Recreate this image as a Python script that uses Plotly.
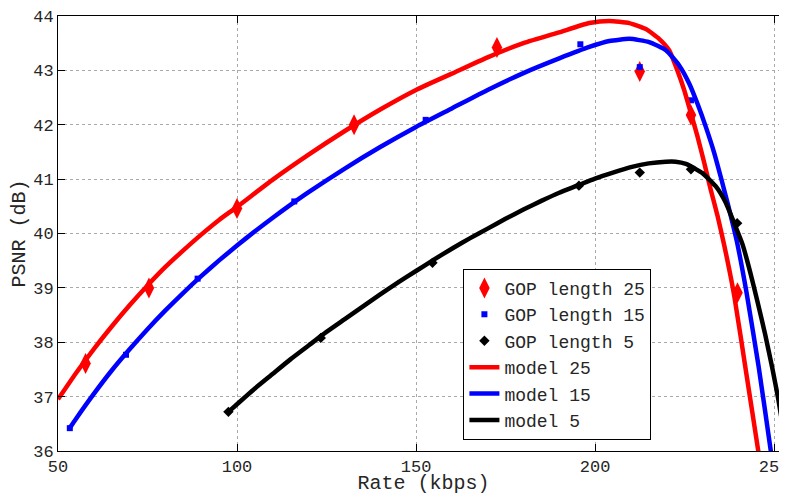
import plotly.graph_objects as go

# Measured points
gop25_x = [57.7, 75.4, 100.0, 132.7, 172.6, 212.5, 226.8, 239.8]
gop25_y = [37.61, 39.0, 40.46, 42.0, 43.42, 42.98, 42.18, 38.91]

gop15_x = [53.3, 69.0, 89.0, 116.0, 152.7, 195.9, 212.5, 226.8]
gop15_y = [36.42, 37.77, 39.17, 40.59, 42.09, 43.48, 43.06, 42.45]

gop5_x = [97.6, 123.4, 154.6, 195.5, 212.5, 226.8, 239.7]
gop5_y = [36.72, 38.08, 39.46, 40.88, 41.12, 41.18, 40.19]

# Model curves
m25_x = [50, 55, 60, 65, 70, 75, 80, 85, 90, 95, 100, 110, 120, 130, 140, 150, 160, 170,
         180, 190, 198.4, 204.0, 209.6, 214.2, 217.9, 220.7, 223.0, 224.9, 226.8, 228.6,
         230.5, 232.3, 234.2, 236.1, 238.9, 242.2, 245.6, 246.5]
m25_y = [36.95, 37.43, 37.875, 38.29, 38.68, 39.045, 39.385, 39.69, 39.98, 40.25, 40.49,
         40.99, 41.45, 41.88, 42.28, 42.64, 42.94, 43.24, 43.50, 43.70, 43.87, 43.91, 43.87,
         43.76, 43.58, 43.37, 43.0, 42.64, 42.21, 41.79, 41.30, 40.81, 40.33, 39.78, 38.85,
         37.45, 36.0, 35.6]

m15_x = [53.35, 55, 60, 65, 70, 75, 80, 85, 90, 95, 100, 105, 110, 115, 120, 130, 140,
         150, 160, 170, 180, 190, 198.4, 204.0, 209.6, 215.1, 219.8, 223.5, 226.3, 228.6,
         230.9, 233.3, 235.2, 237.1, 239.6, 242.3, 245.7, 249.1, 250.0]
m15_y = [36.43, 36.59, 37.05, 37.48, 37.87, 38.24, 38.585, 38.91, 39.215, 39.505, 39.78,
         40.04, 40.29, 40.53, 40.76, 41.19, 41.59, 41.96, 42.30, 42.64, 42.95, 43.22, 43.43,
         43.54, 43.58, 43.52, 43.37, 43.09, 42.76, 42.39, 41.97, 41.48, 41.02, 40.54, 39.86,
         38.92, 37.55, 36.0, 35.55]

m5_x = [97.6, 100, 105, 110, 115, 120, 125, 130, 135, 140, 145, 150, 155, 160, 165, 170,
        175, 180, 185, 190, 195, 200, 205, 210, 215, 219.8, 222.5, 225.4, 228.0, 230.0,
        233.7, 236.5, 238.8, 241.2, 243.3, 245.4, 247.5, 249.5, 251.2, 252.8, 253.8, 254.5]
m5_y = [36.72, 36.86, 37.15, 37.42, 37.69, 37.94, 38.19, 38.42, 38.65, 38.88, 39.10,
        39.31, 39.52, 39.72, 39.91, 40.09, 40.27, 40.44, 40.60, 40.75, 40.88, 41.01, 41.12,
        41.22, 41.29, 41.32, 41.32, 41.28, 41.19, 41.11, 40.87, 40.57, 40.20, 39.80, 39.30,
        38.74, 38.15, 37.53, 36.95, 36.31, 35.9, 35.6]

x_ticks = [50, 100, 150, 200, 250]
y_ticks = [36, 37, 38, 39, 40, 41, 42, 43, 44]

FONT = "Liberation Mono, Courier New, monospace"
TXT = "#262626"

fig = go.Figure()

fig.add_trace(go.Scatter(x=gop25_x, y=gop25_y, mode="markers", name="GOP length 25",
                         marker=dict(symbol="diamond-tall", size=15, color="red", line=dict(width=0))))
fig.add_trace(go.Scatter(x=gop15_x, y=gop15_y, mode="markers", name="GOP length 15",
                         marker=dict(symbol="square", size=6, color="blue", line=dict(width=0))))
fig.add_trace(go.Scatter(x=gop5_x, y=gop5_y, mode="markers", name="GOP length 5",
                         marker=dict(symbol="diamond", size=8, color="black", line=dict(width=0))))

fig.add_trace(go.Scatter(x=m25_x, y=m25_y, mode="lines", name="model 25",
                         line=dict(color="red", width=4.5, shape="spline", smoothing=0.5)))
fig.add_trace(go.Scatter(x=m15_x, y=m15_y, mode="lines", name="model 15",
                         line=dict(color="blue", width=4.5, shape="spline", smoothing=0.5)))
fig.add_trace(go.Scatter(x=m5_x, y=m5_y, mode="lines", name="model 5",
                         line=dict(color="black", width=4.5, shape="spline", smoothing=0.5)))

axis_common = dict(
    showline=True, linecolor="black", linewidth=1, mirror="ticks",
    ticks="inside", ticklen=7, tickcolor="black", tickwidth=1,
    showgrid=True, gridcolor="#aaaaaa", griddash="dot", gridwidth=1,
    zeroline=False, tickfont=dict(family=FONT, size=17, color=TXT),
    ticklabeloverflow="allow",
)

# plot area runs slightly past the window's right edge (as in the cropped original)
fig.update_xaxes(range=[50, 254.18], tickvals=x_ticks, ticktext=[str(v) for v in x_ticks],
                 title=dict(text="Rate (kbps)", font=dict(family=FONT, size=20, color=TXT), standoff=1),
                 **axis_common)
fig.update_yaxes(range=[36, 44], tickvals=y_ticks, ticktext=[str(v) for v in y_ticks],
                 title=dict(text="PSNR (dB)", font=dict(family=FONT, size=20, color=TXT), standoff=6),
                 **axis_common)

# page body has an 8px margin, so the figure is sized/offset to compensate
fig.update_layout(
    width=782, height=487,
    margin=dict(l=50, r=0, t=4, b=44),
    plot_bgcolor="white", paper_bgcolor="white",
    legend=dict(x=0.5546, y=0.419, xanchor="left", yanchor="top",
                bgcolor="white", bordercolor="black", borderwidth=1,
                font=dict(family=FONT, size=18, color=TXT), tracegroupgap=0),
    showlegend=True,
)

fig.write_html("out.html")
